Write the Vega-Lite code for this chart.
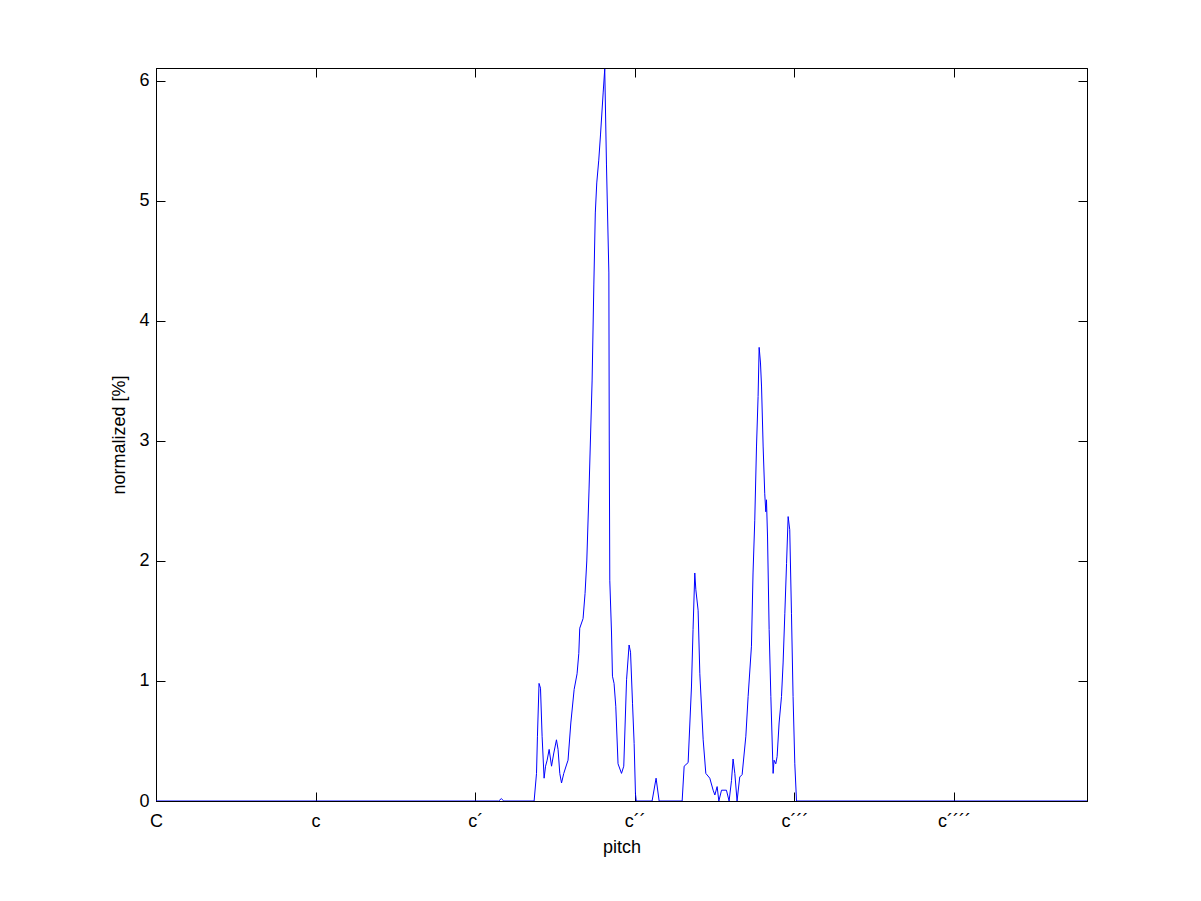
{
  "$schema": "https://vega.github.io/schema/vega-lite/v6.json",
  "width": 931,
  "height": 733,
  "autosize": "none",
  "padding": {"left": 156, "top": 68, "right": 114, "bottom": 100},
  "background": "white",
  "config": {
    "view": {"stroke": "black", "strokeWidth": 1},
    "axis": {
      "domainColor": "black", "tickColor": "black", "labelColor": "black", "titleColor": "black",
      "labelFont": "Liberation Sans", "titleFont": "Liberation Sans",
      "labelFontSize": 18, "titleFontSize": 18, "titleFontWeight": "normal",
      "grid": false, "tickSize": -9, "domainWidth": 1, "tickWidth": 1, "zindex": 1, "labelFlush": false
    }
  },
  "data": {"values": [
    {"m": 36, "v": 0}, {"m": 61.77, "v": 0}, {"m": 61.96, "v": 0.02}, {"m": 62.15, "v": 0},
    {"m": 64.43, "v": 0}, {"m": 64.61, "v": 0.23}, {"m": 64.68, "v": 0.54}, {"m": 64.80, "v": 0.98},
    {"m": 64.91, "v": 0.94}, {"m": 65.03, "v": 0.54}, {"m": 65.18, "v": 0.19}, {"m": 65.29, "v": 0.29},
    {"m": 65.41, "v": 0.34}, {"m": 65.56, "v": 0.43}, {"m": 65.74, "v": 0.29}, {"m": 65.91, "v": 0.40},
    {"m": 66.11, "v": 0.51}, {"m": 66.23, "v": 0.43}, {"m": 66.36, "v": 0.23}, {"m": 66.49, "v": 0.15},
    {"m": 66.66, "v": 0.23}, {"m": 66.86, "v": 0.30}, {"m": 66.98, "v": 0.34}, {"m": 67.19, "v": 0.65},
    {"m": 67.44, "v": 0.93}, {"m": 67.66, "v": 1.06}, {"m": 67.79, "v": 1.23}, {"m": 67.86, "v": 1.44},
    {"m": 68.11, "v": 1.52}, {"m": 68.26, "v": 1.73}, {"m": 68.39, "v": 2.0}, {"m": 68.56, "v": 2.6},
    {"m": 68.79, "v": 3.5}, {"m": 68.92, "v": 4.3}, {"m": 69.03, "v": 4.9}, {"m": 69.14, "v": 5.15},
    {"m": 69.29, "v": 5.34}, {"m": 69.42, "v": 5.55}, {"m": 69.62, "v": 5.9}, {"m": 69.74, "v": 6.1},
    {"m": 69.87, "v": 5.3}, {"m": 70.05, "v": 4.4}, {"m": 70.08, "v": 3.0}, {"m": 70.12, "v": 1.84},
    {"m": 70.25, "v": 1.40}, {"m": 70.32, "v": 1.04}, {"m": 70.44, "v": 0.98}, {"m": 70.57, "v": 0.79},
    {"m": 70.74, "v": 0.31}, {"m": 71.0, "v": 0.23}, {"m": 71.17, "v": 0.29}, {"m": 71.38, "v": 1.01},
    {"m": 71.57, "v": 1.30}, {"m": 71.68, "v": 1.24}, {"m": 71.83, "v": 0.81}, {"m": 71.95, "v": 0.48},
    {"m": 72.05, "v": 0.06}, {"m": 72.11, "v": 0}, {"m": 73.30, "v": 0}, {"m": 73.60, "v": 0.19},
    {"m": 73.83, "v": 0}, {"m": 75.56, "v": 0}, {"m": 75.71, "v": 0.29}, {"m": 76.01, "v": 0.32},
    {"m": 76.26, "v": 0.95}, {"m": 76.38, "v": 1.43}, {"m": 76.51, "v": 1.90}, {"m": 76.59, "v": 1.76},
    {"m": 76.76, "v": 1.59}, {"m": 76.89, "v": 1.06}, {"m": 77.14, "v": 0.51}, {"m": 77.34, "v": 0.23},
    {"m": 77.64, "v": 0.19}, {"m": 77.89, "v": 0.09}, {"m": 78.02, "v": 0.05}, {"m": 78.19, "v": 0.12},
    {"m": 78.32, "v": 0}, {"m": 78.52, "v": 0.09}, {"m": 78.89, "v": 0.09}, {"m": 79.09, "v": 0},
    {"m": 79.27, "v": 0.17}, {"m": 79.39, "v": 0.35}, {"m": 79.52, "v": 0.23}, {"m": 79.69, "v": 0},
    {"m": 79.89, "v": 0.2}, {"m": 80.07, "v": 0.22}, {"m": 80.35, "v": 0.54}, {"m": 80.52, "v": 0.87},
    {"m": 80.77, "v": 1.29}, {"m": 80.89, "v": 1.9}, {"m": 81.02, "v": 2.34}, {"m": 81.15, "v": 2.95},
    {"m": 81.27, "v": 3.37}, {"m": 81.35, "v": 3.78}, {"m": 81.45, "v": 3.65}, {"m": 81.53, "v": 3.45},
    {"m": 81.65, "v": 2.95}, {"m": 81.77, "v": 2.56}, {"m": 81.85, "v": 2.41}, {"m": 81.90, "v": 2.51},
    {"m": 81.98, "v": 2.20}, {"m": 82.10, "v": 1.43}, {"m": 82.23, "v": 0.87}, {"m": 82.40, "v": 0.23},
    {"m": 82.47, "v": 0.34}, {"m": 82.60, "v": 0.31}, {"m": 82.70, "v": 0.37}, {"m": 82.85, "v": 0.65},
    {"m": 83.03, "v": 0.87}, {"m": 83.15, "v": 1.15}, {"m": 83.28, "v": 1.56}, {"m": 83.41, "v": 1.98},
    {"m": 83.53, "v": 2.37}, {"m": 83.65, "v": 2.26}, {"m": 83.78, "v": 1.56}, {"m": 83.90, "v": 0.87},
    {"m": 84.03, "v": 0.31}, {"m": 84.16, "v": 0}, {"m": 106, "v": 0}
  ]},
  "layer": [
    {
      "mark": {"type": "line", "color": "#0000ff", "strokeWidth": 1, "clip": true},
      "encoding": {
        "x": {"field": "m", "type": "quantitative", "scale": {"domain": [36, 106], "nice": false, "zero": false},
          "axis": {"values": [36, 48, 60, 72, 84, 96], "title": "pitch", "labelPadding": 20, "titlePadding": 8,
            "labelExpr": "['C','c','c´','c´´','c´´´','c´´´´'][(datum.value-36)/12]"}},
        "y": {"field": "v", "type": "quantitative", "scale": {"domain": [0, 6.108], "nice": false},
          "axis": {"values": [0, 1, 2, 3, 4, 5, 6], "title": "normalized [%]", "labelPadding": 16, "titlePadding": 10}}
      }
    },
    {
      "mark": {"type": "line", "strokeOpacity": 0},
      "encoding": {
        "x": {"field": "m", "type": "quantitative", "axis": {"orient": "top", "values": [36, 48, 60, 72, 84, 96], "labels": false, "title": null}},
        "y": {"field": "v", "type": "quantitative", "axis": {"orient": "right", "values": [0, 1, 2, 3, 4, 5, 6], "labels": false, "title": null}}
      }
    }
  ],
  "resolve": {"axis": {"x": "independent", "y": "independent"}}
}
